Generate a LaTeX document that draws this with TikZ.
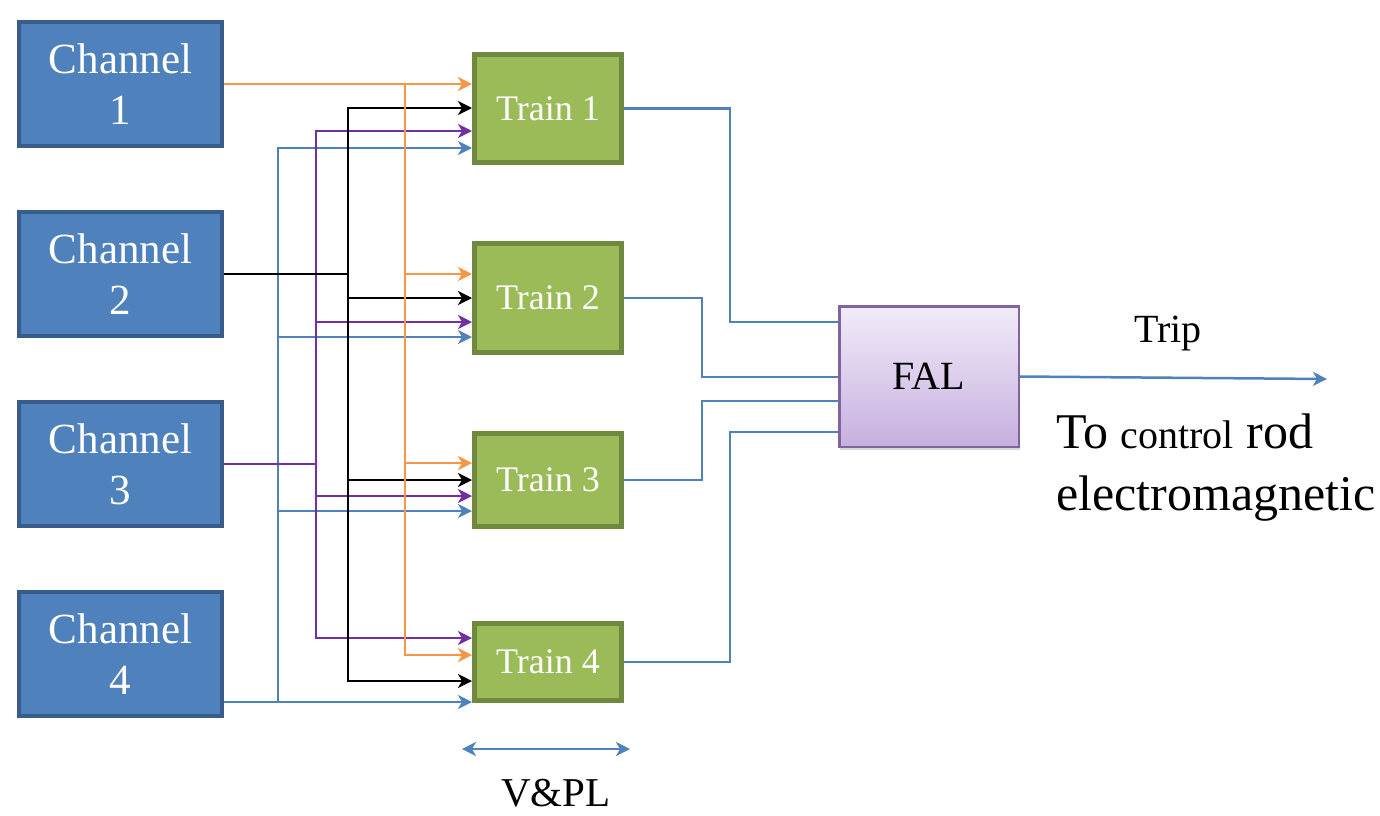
\documentclass[tikz,border=0pt]{standalone}
\usepackage{fontspec}
\setmainfont{LiberationSerif}[Extension=.ttf,UprightFont=*-Regular,BoldFont=*-Bold]
\usepackage{tikz}
\usetikzlibrary{arrows.meta,positioning,calc,shadows}
\definecolor{ChanBlue}{HTML}{4F81BD}
\definecolor{ChanEdge}{HTML}{385D8A}
\definecolor{TrainGreen}{HTML}{9BBB59}
\definecolor{TrainEdge}{HTML}{71893F}
\definecolor{FalEdge}{HTML}{8064A2}
\definecolor{FalTop}{HTML}{F1EBF8}
\definecolor{FalBottom}{HTML}{C6B0DF}
\definecolor{WireOrange}{HTML}{F79646}
\definecolor{WirePurple}{HTML}{7030A0}
\definecolor{WireBlue}{HTML}{4F81BD}
\newcommand{\sizept}[2]{\fontsize{#1}{#2}\selectfont}

\begin{document}
\begin{tikzpicture}[x=1pt,y=-1pt,>={Stealth[length=14pt,width=14pt,inset=4pt]},node distance=62pt,
  chanbox/.style={draw=ChanEdge,line width=4pt,fill=ChanBlue,text=white,minimum width=203pt,minimum height=124pt,align=center,font=\sizept{43}{51}},
  trainbox/.style={draw=TrainEdge,line width=5pt,fill=TrainGreen,text=white,minimum width=147pt,font=\sizept{36}{43}},
  falbox/.style={draw=FalEdge,line width=2.5pt,top color=FalTop,bottom color=FalBottom,minimum width=179.5pt,minimum height=140.5pt,font=\sizept{40}{48},drop shadow={shadow xshift=1pt,shadow yshift=-3pt,opacity=.3}},
  wire/.style={line width=2.5pt}]
\useasboundingbox (0,0) rectangle (1380,815);
\node[chanbox] (ch1) at (120.5,84) {Channel\\1};
\node[chanbox,below=of ch1] (ch2) {Channel\\2};
\node[chanbox,below=of ch2] (ch3) {Channel\\3};
\node[chanbox,below=of ch3] (ch4) {Channel\\4};
\node[trainbox,minimum height=108pt] (tr1) at (548,108.5) {Train 1};
\node[trainbox,minimum height=109pt] (tr2) at (548,298) {Train 2};
\node[trainbox,minimum height=93pt] (tr3) at (548,480) {Train 3};
\node[trainbox,minimum height=77pt] (tr4) at (548,662) {Train 4};
\node[falbox] (fal) at (929,376.5) {FAL};
\coordinate (bus1) at (405,0);\coordinate (bus2) at (348,0);\coordinate (bus3) at (316,0);\coordinate (bus4) at (278,0);
% channel 4 (blue)
\draw[wire,WireBlue,->] (ch4.east |- 0,702) -- (tr4.west |- 0,702);
\draw[wire,WireBlue,->] (bus4 |- 0,702) |- (tr1.west |- 0,148);
\foreach \t/\y in {tr2/337,tr3/511} \draw[wire,WireBlue,->] (bus4 |- 0,\y) -- (\t.west |- 0,\y);
% channel 3 (purple)
\draw[wire,WirePurple] (ch3.east) -- (bus3 |- ch3.east);
\draw[wire,WirePurple,<->] (tr1.west |- 0,131) -| (bus3 |- 0,638) -- (tr4.west |- 0,638);
\foreach \t/\y in {tr2/322,tr3/496} \draw[wire,WirePurple,->] (bus3 |- 0,\y) -- (\t.west |- 0,\y);
% channel 2 (black)
\draw[wire,black] (ch2.east) -- (bus2 |- ch2.east);
\draw[wire,black,<->] (tr1.west |- 0,108) -| (bus2 |- 0,681) -- (tr4.west |- 0,681);
\foreach \t/\y in {tr2/298,tr3/480} \draw[wire,black,->] (bus2 |- 0,\y) -- (\t.west |- 0,\y);
% channel 1 (orange)
\draw[wire,WireOrange,->] (ch1.east) -- (tr1.west |- ch1.east);
\draw[wire,WireOrange,->] (bus1 |- ch1.east) |- (tr4.west |- 0,655);
\foreach \t/\y in {tr2/274,tr3/463} \draw[wire,WireOrange,->] (bus1 |- 0,\y) -- (\t.west |- 0,\y);
% trains to FAL
\draw[wire,WireBlue] (tr1.east) -- ++(106,0) |- (fal.west |- 0,322);
\draw[wire,WireBlue] (tr2.east) -- ++(78,0) |- (fal.west |- 0,377);
\draw[wire,WireBlue] (tr3.east) -- ++(78,0) |- (fal.west |- 0,401);
\draw[wire,WireBlue] (tr4.east) -- ++(106,0) |- (fal.west |- 0,432);
\coordinate (tripend) at (1327,379);
\draw[wire,WireBlue,->] (fal.east) -- (tripend);
\node[anchor=base,font=\sizept{40}{48}] (trip) at (1168,342) {Trip};
\node[anchor=north west,inner sep=0pt,align=left,font=\sizept{50}{62}] (rod) at (1056,414) {To {\sizept{40}{62}control} rod\\electromagnetic};
% V&PL span
\coordinate (vpl1) at (462,749);\coordinate (vpl2) at (630,749);
\draw[wire,WireBlue,<->] (vpl1) -- (vpl2);
\node[anchor=base,font=\sizept{41}{49}] (vpl) at (556,806) {V\&PL};
\end{tikzpicture}
\end{document}
